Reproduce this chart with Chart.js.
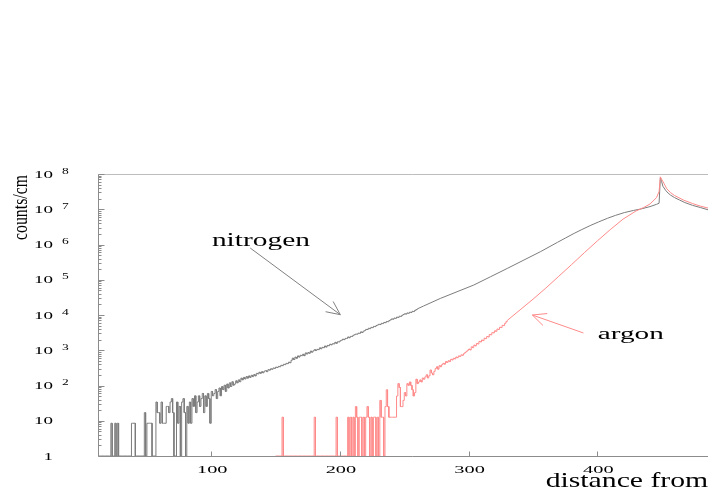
<!DOCTYPE html>
<html><head><meta charset="utf-8">
<script src="https://cdn.jsdelivr.net/npm/chart.js@4/dist/chart.umd.min.js"></script>
<style>html,body{margin:0;padding:0;background:#fff;overflow:hidden;width:708px;height:491px}canvas{display:block}</style>
</head><body>
<canvas id="c" width="760" height="491" style="width:760px;height:491px"></canvas>
<script>
// ---- axis ranges / ticks ----
const xAxisMin = 12, xAxisMax = 500;
const yAxisMin = 1, yAxisMax = 1e8;
const xTickValues = [100, 200, 300, 400];
const yTickExponents = [0, 1, 2, 3, 4, 5, 6, 7, 8];
const xAxisTitle = "distance from";
const yAxisTitle = "counts/cm";
const seriesNames = ["nitrogen", "argon"];

// ---- nitrogen: histogram bins (width 1) starting at x = 12 ----
const nitrogenBinStart = 12;
const nitrogenBinWidth = 1;
const nitrogenBins = [
  0,0,0,0,0,0,0,0,0,0,
  8.5,0,0,8.5,0,8.5,0,0,0,0,
  0,0,0,0,0,0,8.5,8.5,8.5,0,
  0,0,0,0,0,0,17,0,8.5,8.5,
  8.5,8.5,0,0,0,34,17,17,8.5,34,
  8.5,8.5,8.5,25.5,25.5,17,34,42.5,17,0,
  0,34,8.5,25.5,0,34,42.5,17,0,25.5,
  8.5,34,8.5,42.5,25.5,51,17,34,51,25.5,
  42.5,59.5,17,51,25.5,59.5,42.5,8.5,68,51,
  59.5,76.5,42.5,68,85,51,93.5,76.5,102,68,
  110,85,119,93.5,127.5,102,110,136,119,144.5,
  127.5,161.5,144.5,170,153,178.5,161.5,187,170,195.5,
  178.5,204,187,221,212.5,238,221,246.5,229.5,255,
  263.5,246.5,280.5,272,297.5,289,314.5,306,331.5,323,
  348.5,340,374,365.5,399.5,391,425,416.5,459,442,
  520,600,545,640,590,690,640,720,700,770,
  700,840,780,860,820,950,880,960,1040,980,
  1060,1040,1170,1100,1210,1180,1320,1230,1370,1340,
  1480,1420,1530,1510,1680,1570,1740,1720,1860,1930,
  2060,2000,2170,2160,2380,2260,2480,2450,2650,2760,
  2880,2860,3050,3020,3320,3190,3480,3620,3900,3880,
  4200,4100,4450,4380,4750,4680,5050,5200,5450,5350,
  5800,5700,6150,6050,6550,6450,6950,7300,7750,7600,
  8200,8050,8700,8550,9250,9100,9800,10300,10800,10600,
  11400,11200,12000,11800,12700,12500,13500,14200
];
// nitrogen: smooth high-statistics part
const nitrogenTailX = [260,265,278,291,304,317,330,343,356,369,375,382,388,395,401,408,414,421,428,434,441,446,448,449,450,451,453,455,457,460,464,468,474,480,486.5,495,500];
const nitrogenTailY = [14800,18000,29500,45700,70800,121600,209000,363000,631000,1150000,1510000,2070000,2660000,3510000,4370000,5560000,6680000,8040000,9230000,10200000,11900000,13800000,14800000,77600000,60300000,44700000,34700000,28800000,25100000,21400000,18200000,15500000,12900000,11200000,9550000,8320000,7760000];

// ---- argon: histogram bins (width 1) starting at x = 150 ----
const argonBinStart = 150;
const argonBinWidth = 1;
const argonBins = [
  0,0,0,0,0,12.6,0,0,0,0,
  0,0,0,0,0,0,0,0,0,0,
  0,0,0,0,0,0,0,0,0,0,
  12.6,0,0,0,0,0,0,0,0,0,
  0,0,0,0,0,0,0,12.6,0,0,
  0,0,0,0,0,0,12.6,0,12.6,0,
  12.6,0,25.2,12.6,0,12.6,12.6,0,12.6,0,
  12.6,25.2,12.6,0,12.6,0,12.6,12.6,0,12.6,
  0,37.8,12.6,12.6,0,25.2,75.6,25.2,12.6,12.6,
  12.6,12.6,12.6,12.6,50.4,113,88.2,25.2,25.2,37.8,
  63,50.4,113,100.8,126,100.8,75.6,50.4,63,151,
  113,126,144,126,163,151,176,201,163,189,
  276,226,201,252,302,340,290,365,340,390,
  427,402,478,452,503,478,553,530,592,567,
  643,617,690,670,740,718,800,860,930,1000,
  1080,1020,1250,1180,1400,1330,1560,1500,1780,1720,
  1950,1880,2200,2130,2450,2380,2800,2720,3150,3100,
  3550,3450,4000,3900,4500,4400,5100,5000,5800,6500
];
const argonTailX = [330,340,350,360,370,380,390,400,410,420,430,436,441,446,448,449,450,452,454,457,460,467,474,480,486.5,495,500];
const argonTailY = [7000,14000,28000,58000,125000,269000,589000,1260000,2630000,5250000,8900000,11200000,14100000,21400000,31600000,83200000,70800000,52500000,38000000,29500000,24500000,18200000,14500000,12300000,10700000,9300000,8700000];

// ---- build point tables for Chart.js (empty bins drawn on the axis floor, as on a log plot) ----
function buildPoints(start, width, bins, tailX, tailY) {
  const pts = [];
  bins.forEach((v, i) => {
    const x0 = start + i * width;
    const yv = v > 0 ? v : yAxisMin;
    pts.push({x: x0, y: yv}, {x: x0 + width, y: yv});
  });
  tailX.forEach((xv, i) => pts.push({x: xv, y: tailY[i]}));
  return pts;
}
const nitrogenPts = buildPoints(nitrogenBinStart, nitrogenBinWidth, nitrogenBins, nitrogenTailX, nitrogenTailY);
const argonPts = buildPoints(argonBinStart, argonBinWidth, argonBins, argonTailX, argonTailY);

const NITRO_COLOR = '#7c7c7c';
const ARGON_COLOR = '#ff8a8a';
const FONT = '"Liberation Serif", "DejaVu Serif", serif';

function drawText(ctx, str, x, y, size, opts) {
  ctx.save();
  ctx.font = size + 'px ' + FONT;
  ctx.textAlign = opts.align || 'left';
  ctx.textBaseline = 'alphabetic';
  ctx.fillStyle = opts.color || '#000';
  ctx.translate(x, y);
  if (opts.rotate) ctx.rotate(opts.rotate);
  let sx = opts.sx || 1;
  if (opts.fit) sx = opts.fit / ctx.measureText(str).width;
  ctx.scale(sx, 1);
  ctx.fillText(str, 0, 0);
  ctx.restore();
}
function seg(ctx, x1, y1, x2, y2) { ctx.beginPath(); ctx.moveTo(x1, y1); ctx.lineTo(x2, y2); ctx.stroke(); }
function arrow(ctx, x1, y1, x2, y2, color) {
  ctx.save();
  ctx.strokeStyle = color; ctx.lineWidth = 1;
  seg(ctx, x1, y1, x2, y2);
  const ang = Math.atan2(y1 - y2, x1 - x2), L = 15, h = 25 * Math.PI / 180;
  seg(ctx, x2, y2, x2 + L * Math.cos(ang + h), y2 + L * Math.sin(ang + h));
  seg(ctx, x2, y2, x2 + L * Math.cos(ang - h), y2 + L * Math.sin(ang - h));
  ctx.restore();
}

const overlay = {
  id: 'overlay',
  afterDraw(chart) {
    const ctx = chart.ctx, a = chart.chartArea, xs = chart.scales.x, ys = chart.scales.y;
    ctx.save();
    ctx.lineWidth = 1;
    const L = Math.round(a.left) + 0.5, B = Math.round(a.bottom) + 0.5, T = Math.round(a.top) + 0.5;
    // frame
    ctx.strokeStyle = '#bdbdbd';
    seg(ctx, L, T, a.right, T);
    ctx.strokeStyle = '#8c8c8c';
    seg(ctx, L, T, L, B);
    seg(ctx, L, B, a.right, B);
    // y ticks (inward)
    yTickExponents.forEach(e => {
      if (e === yTickExponents[yTickExponents.length - 1]) {
        const py = Math.round(ys.getPixelForValue(Math.pow(10, e))) + 0.5;
        seg(ctx, L, py, L + 6, py);
        return;
      }
      for (let m = 1; m <= 9; m++) {
        const py = Math.round(ys.getPixelForValue(m * Math.pow(10, e))) + 0.5;
        seg(ctx, L, py, L + (m === 1 ? 6 : 3), py);
      }
    });
    // x ticks (inward)
    xTickValues.forEach(v => {
      const px = Math.round(xs.getPixelForValue(v)) + 0.5;
      seg(ctx, px, B, px, B - 5);
    });
    ctx.restore();

    // y tick labels
    yTickExponents.forEach(e => {
      const py = ys.getPixelForValue(Math.pow(10, e));
      if (e === 0) {
        drawText(ctx, '1', 53, py + 3.5, 10, {align: 'right', sx: 1.9});
      } else {
        drawText(ctx, '10', 53, py + 3.5, 10, {align: 'right', sx: 1.9});
        if (e > 1) drawText(ctx, String(e), 62, py - 0.5, 7.5, {align: 'left', sx: 1.8});
      }
    });
    // x tick labels
    xTickValues.forEach(v => {
      drawText(ctx, String(v), xs.getPixelForValue(v) + 1, 473, 11, {align: 'center', sx: 1.85});
    });
    // axis titles
    drawText(ctx, xAxisTitle, 545.7, 486.7, 22, {align: 'left', fit: 162.5});
    drawText(ctx, yAxisTitle, 26.7, 207.5, 20, {align: 'center', fit: 65, rotate: -Math.PI / 2});

    // series annotations (anchored in data coordinates)
    drawText(ctx, seriesNames[0], xs.getPixelForValue(100.5), ys.getPixelForValue(9.3e5), 18, {align: 'left', fit: 98});
    arrow(ctx, xs.getPixelForValue(130.3), ys.getPixelForValue(7.94e5), xs.getPixelForValue(200.3), ys.getPixelForValue(1.02e4), '#808080');
    drawText(ctx, seriesNames[1], xs.getPixelForValue(400.4), ys.getPixelForValue(2040), 17, {align: 'left', fit: 66});
    arrow(ctx, xs.getPixelForValue(389.2), ys.getPixelForValue(3090), xs.getPixelForValue(349.5), ys.getPixelForValue(1.0e4), ARGON_COLOR);
  }
};

new Chart(document.getElementById('c').getContext('2d'), {
  type: 'line',
  data: {
    datasets: [
      {label: seriesNames[1], data: argonPts, borderColor: ARGON_COLOR, borderWidth: 1, pointRadius: 0, fill: false, tension: 0, order: 0},
      {label: seriesNames[0], data: nitrogenPts, borderColor: NITRO_COLOR, borderWidth: 1, pointRadius: 0, fill: false, tension: 0, order: 1}
    ]
  },
  options: {
    responsive: false,
    animation: false,
    devicePixelRatio: 1,
    events: [],
    layout: {padding: {left: 98, top: 174, right: 34, bottom: 35}},
    plugins: {legend: {display: false}, tooltip: {enabled: false}},
    scales: {
      x: {type: 'linear', min: xAxisMin, max: xAxisMax, display: false},
      y: {type: 'logarithmic', min: yAxisMin, max: yAxisMax, display: false}
    }
  },
  plugins: [overlay]
});
</script>
</body></html>
